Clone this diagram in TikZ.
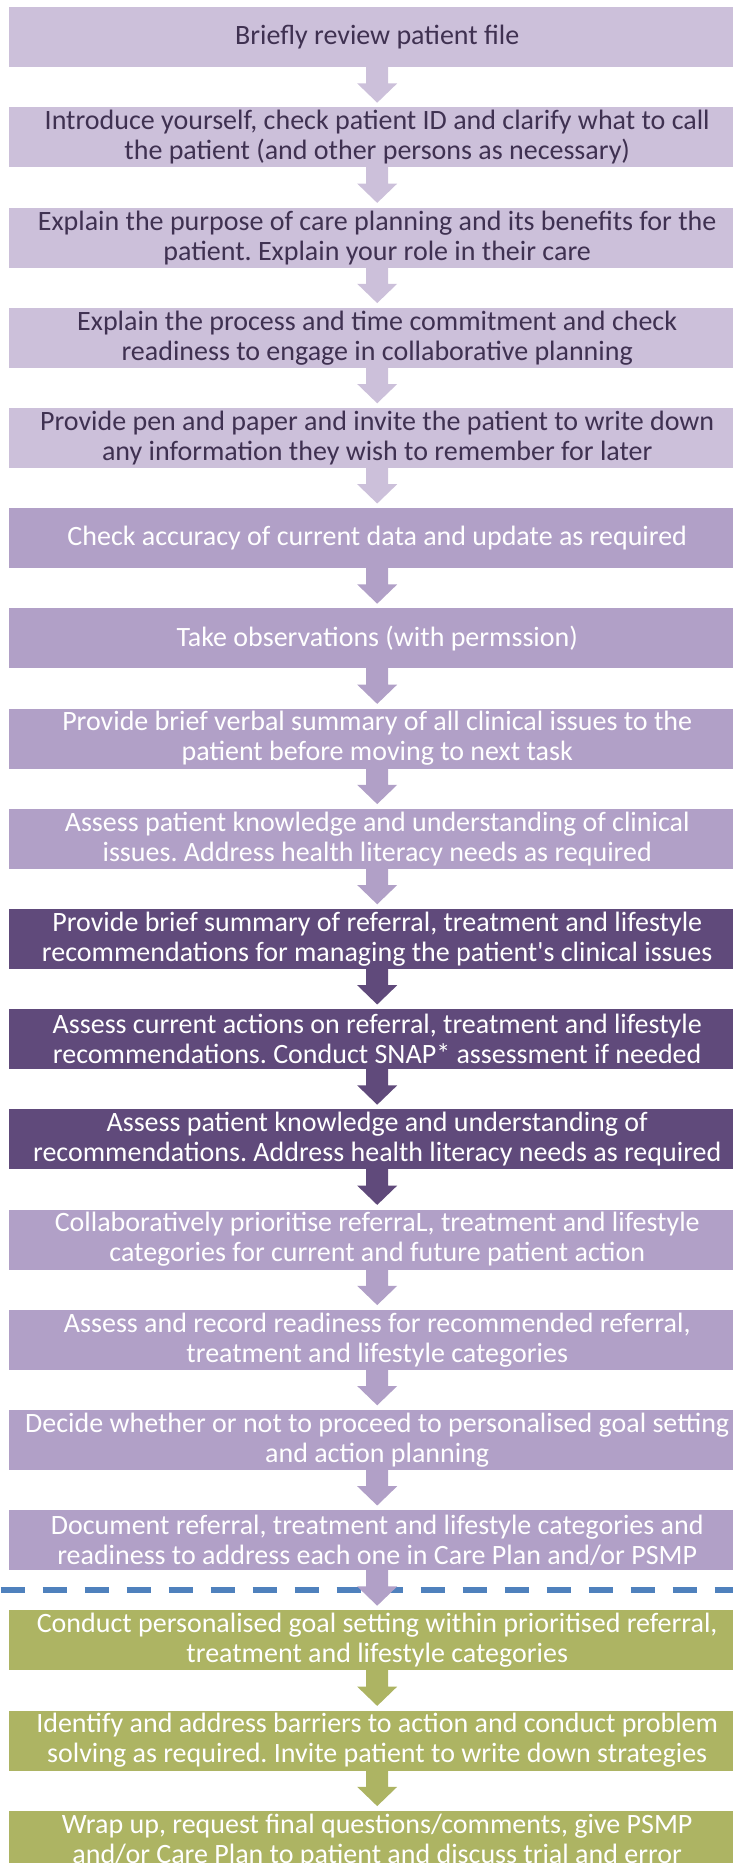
\documentclass[tikz,border=0pt]{standalone}
\usepackage{fontspec}
\setmainfont{Carlito}[Ligatures=TeXOff]
\usetikzlibrary{calc}
\frenchspacing
\definecolor{lavA}{HTML}{CCC0DA}
\definecolor{lavB}{HTML}{B1A0C7}
\definecolor{lavC}{HTML}{604A7B}
\definecolor{olv}{HTML}{ADB463}
\definecolor{txtdark}{HTML}{3F3151}
\definecolor{dashblue}{HTML}{4F81BD}
\tikzset{
  stepbox/.style={anchor=north west, inner sep=0pt, minimum width=736pt, minimum height=60pt,
    align=center, font=\fontsize{28pt}{30pt}\selectfont\frenchspacing},
  boxA/.style={stepbox, fill=lavA, text=txtdark},
  boxB/.style={stepbox, fill=lavB, text=white},
  boxC/.style={stepbox, fill=lavC, text=white},
  boxG/.style={stepbox, fill=olv, text=white},
}
\newcommand{\flowarrow}[3]{%
  \fill[#3] ($(#1.south)+(-11,0.5)$) -- ($(#1.south)+(-11,-16)$) -- ($(#1.south)+(-20,-16)$)
    -- ($(#2.north)+(0,4.5)$) -- ($(#1.south)+(20,-16)$) -- ($(#1.south)+(11,-16)$)
    -- ($(#1.south)+(11,0.5)$) -- cycle;}
\begin{document}
\begin{tikzpicture}[x=1pt,y=1pt]
\useasboundingbox (0,0) rectangle (733,-1863);
\clip (0,0) rectangle (733,-1863);
\node[boxA] (b1) at (9,-7) {Briefly review patient file};
\node[boxA] (b2) at (9,-107.2) {Introduce yourself, check patient ID and clarify what to call\\the patient (and other persons as necessary)};
\node[boxA] (b3) at (9,-207.4) {Explain the purpose of care planning and its benefits for the\\patient. Explain your role in their care};
\node[boxA] (b4) at (9,-307.6) {Explain the process and time commitment and check\\readiness to engage in collaborative planning};
\node[boxA] (b5) at (9,-407.8) {Provide pen and paper and invite the patient to write down\\any information they wish to remember for later};
\node[boxB] (b6) at (9,-508.0) {Check accuracy of current data and update as required};
\node[boxB] (b7) at (9,-608.2) {Take observations (with permssion)};
\node[boxB] (b8) at (9,-708.4) {Provide brief verbal summary of all clinical issues to the\\patient before moving to next task};
\node[boxB] (b9) at (9,-808.6) {Assess patient knowledge and understanding of clinical\\issues. Address health literacy needs as required};
\node[boxC] (b10) at (9,-908.8) {Provide brief summary of referral, treatment and lifestyle\\recommendations for managing the patient's clinical issues};
\node[boxC] (b11) at (9,-1009.0) {Assess current actions on referral, treatment and lifestyle\\recommendations. Conduct SNAP* assessment if needed};
\node[boxC] (b12) at (9,-1109.2) {Assess patient knowledge and understanding of\\recommendations. Address health literacy needs as required};
\node[boxB] (b13) at (9,-1209.4) {Collaboratively prioritise referraL, treatment and lifestyle\\categories for current and future patient action};
\node[boxB] (b14) at (9,-1309.6) {Assess and record readiness for recommended referral,\\treatment and lifestyle categories};
\node[boxB] (b15) at (9,-1409.8) {Decide whether or not to proceed to personalised goal setting\\and action planning};
\node[boxB] (b16) at (9,-1510.0) {Document referral, treatment and lifestyle categories and\\readiness to address each one in Care Plan and/or PSMP};
\node[boxG] (b17) at (9,-1610.2) {Conduct personalised goal setting within prioritised referral,\\treatment and lifestyle categories};
\node[boxG] (b18) at (9,-1710.4) {Identify and address barriers to action and conduct problem\\solving as required. Invite patient to write down strategies};
\node[boxG] (b19) at (9,-1810.6) {Wrap up, request final questions/comments, give PSMP\\and/or Care Plan to patient and discuss trial and error};
\coordinate (dl) at (0.7,-1590.3);
\coordinate (dr) at (733,-1590.3);
\draw[dashblue, line width=5.7pt, dash pattern=on 24pt off 18pt] (dl) -- (dr);
\flowarrow{b1}{b2}{lavA}
\flowarrow{b2}{b3}{lavA}
\flowarrow{b3}{b4}{lavA}
\flowarrow{b4}{b5}{lavA}
\flowarrow{b5}{b6}{lavA}
\flowarrow{b6}{b7}{lavB}
\flowarrow{b7}{b8}{lavB}
\flowarrow{b8}{b9}{lavB}
\flowarrow{b9}{b10}{lavB}
\flowarrow{b10}{b11}{lavC}
\flowarrow{b11}{b12}{lavC}
\flowarrow{b12}{b13}{lavC}
\flowarrow{b13}{b14}{lavB}
\flowarrow{b14}{b15}{lavB}
\flowarrow{b15}{b16}{lavB}
\flowarrow{b16}{b17}{lavB}
\flowarrow{b17}{b18}{olv}
\flowarrow{b18}{b19}{olv}
\end{tikzpicture}
\end{document}
